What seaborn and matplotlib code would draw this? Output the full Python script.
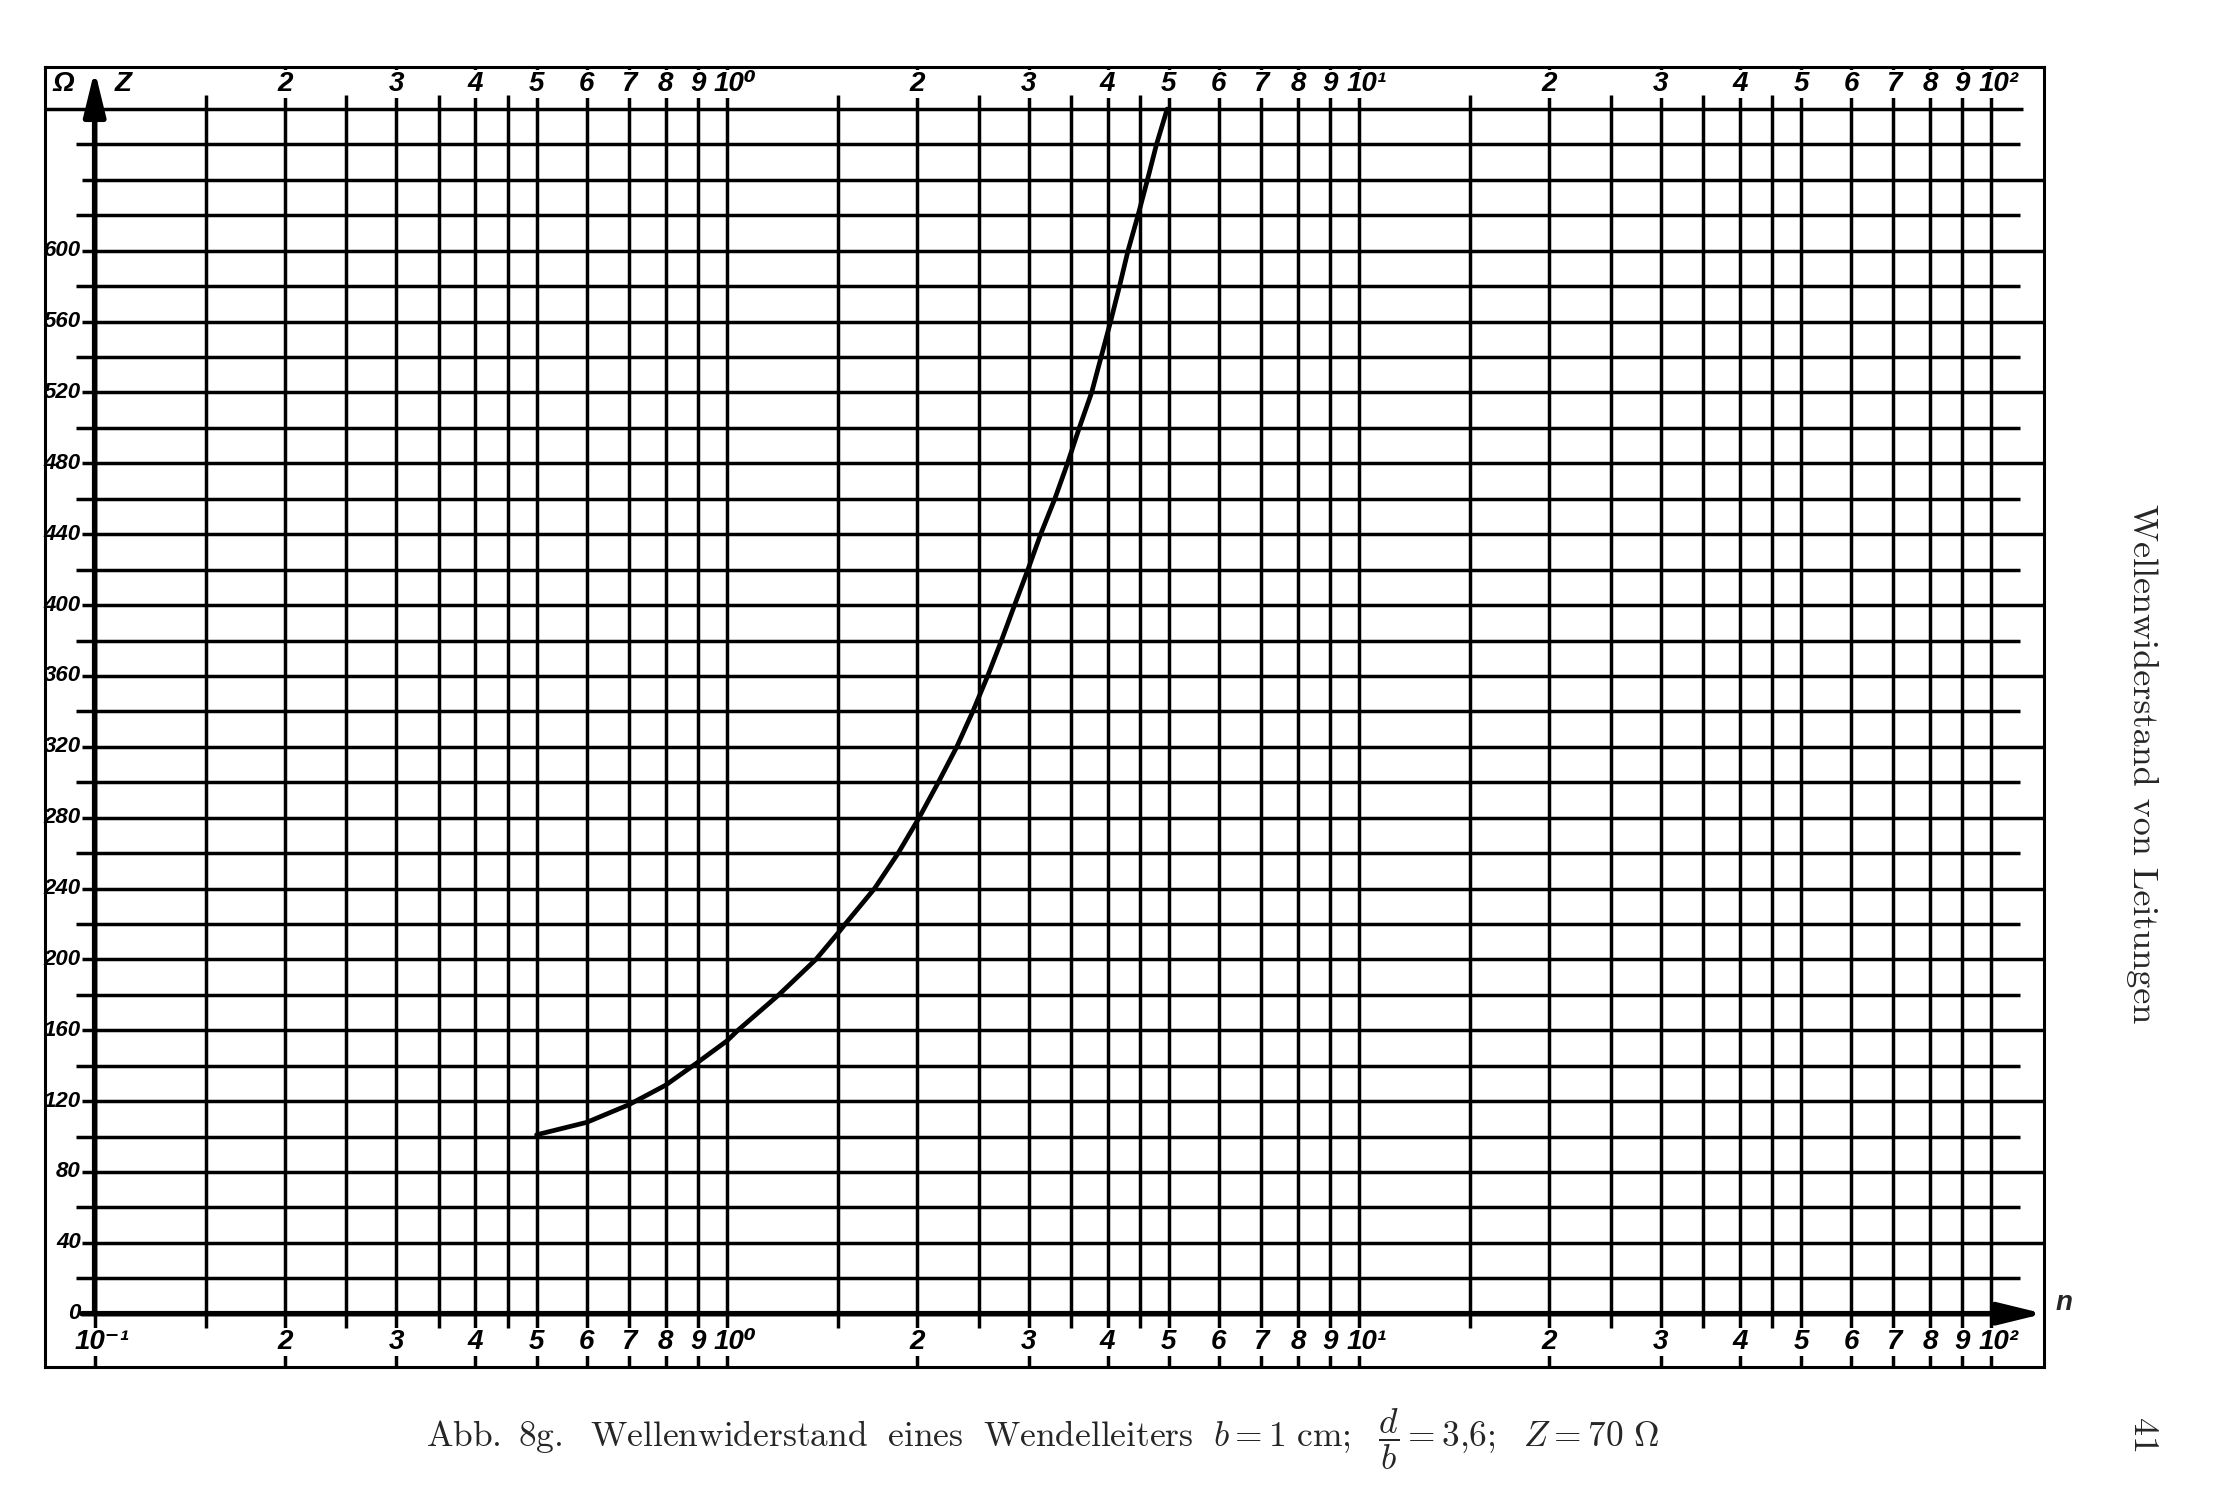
import numpy as np
import pandas as pd
import matplotlib
matplotlib.use("Agg")
import matplotlib.pyplot as plt
import seaborn as sns

# curve: n (log axis) against Z in Ohm
n_vals = [0.5, 0.6, 0.7, 0.8, 0.9, 1.0, 1.041, 1.208, 1.383, 1.5, 1.539,
          1.712, 1.866, 2.014, 2.16, 2.31, 2.449, 2.585, 2.718, 2.851, 2.993,
          3.135, 3.301, 3.457, 3.608, 3.775, 3.907, 4.044, 4.178, 4.309,
          4.469, 4.625, 4.78, 4.97]
z_vals = [101, 108, 118, 129, 142, 154, 160, 180, 200, 215, 220,
          240, 260, 280, 300, 320, 340, 360, 380, 400, 420,
          440, 460, 480, 500, 520, 540, 560, 580, 600,
          620, 640, 660, 680]

decades = [0.1, 1, 10]
mult_labeled = [2, 3, 4, 5, 6, 7, 8, 9]
mult_half = [1.5, 2.5, 3.5, 4.5]
decade_labels = {0.1: "10⁻¹", 1: "10⁰", 10: "10¹", 100: "10²"}
y_grid = list(range(0, 700, 20))
y_labels = list(range(0, 601, 40))

sns.set_theme(style="white")
plt.rcParams["font.family"] = ["Liberation Sans Narrow", "Liberation Sans", "DejaVu Sans"]
plt.rcParams["mathtext.fontset"] = "cm"

df = pd.DataFrame({"n": n_vals, "Z": z_vals})

fig = plt.figure(figsize=(22.24, 15.12), dpi=100)
ax = fig.add_axes([0.0204, 0.096, 0.8986, 0.860])
ax.set_xscale("log")
xl, xr = 10 ** -1.078, 10 ** 2.083
yb, yt = -30, 704
ax.set_xlim(xl, xr)
ax.set_ylim(yb, yt)

glw = 2.5
lab = dict(fontsize=20, fontweight="bold", fontstyle="italic", color="black",
           ha="center", va="center", zorder=5,
           bbox=dict(facecolor="white", edgecolor="none", pad=0.5))

# vertical grid
for d in decades:
    for m in mult_labeled:
        ax.vlines(d * m, yb, yt, color="black", lw=glw, zorder=1)
    for m in mult_half:
        ax.vlines(d * m, -8, 688, color="black", lw=glw, zorder=1)
    if d > 0.1:
        ax.vlines(d, yb, yt, color="black", lw=glw, zorder=1)
ax.vlines(100, yb, yt, color="black", lw=glw, zorder=1)
ax.vlines(0.1, yb, 0, color="black", lw=glw, zorder=1)

# horizontal grid
for z in y_grid:
    if z == 0:
        continue
    if z == 680:
        ax.hlines(z, xl, 10 ** 2.05, color="black", lw=glw, zorder=1)
    elif z % 40 == 0:
        ax.hlines(z, 10 ** -1.02, xr, color="black", lw=glw, zorder=1)
    else:
        ax.hlines(z, 10 ** -1.03, 10 ** 2.045, color="black", lw=glw, zorder=1)

# axes with arrows
arrow = dict(arrowstyle="-|>,head_length=0.9,head_width=0.22", lw=4,
             color="black", mutation_scale=30, shrinkA=0, shrinkB=0)
ax.annotate("", xy=(0.1, 702), xytext=(0.1, 0), arrowprops=arrow, zorder=3)
ax.annotate("", xy=(10 ** 2.083, 0), xytext=(10 ** -1.02, 0),
            arrowprops=arrow, zorder=3)

# curve
sns.lineplot(data=df, x="n", y="Z", ax=ax, color="black", lw=3.4,
             sort=False, estimator=None, zorder=4)

# x labels top and bottom
for d in decades:
    for m in mult_labeled:
        ax.text(d * m, -16, str(m), **lab)
        ax.text(d * m, 694, str(m), **lab)
for d, s in decade_labels.items():
    ax.text(d * 10 ** 0.012, -16, s, **lab)
    if d > 0.1:
        ax.text(d * 10 ** 0.012, 694, s, **lab)

# y labels
ylab = dict(lab)
ylab["ha"] = "right"
ylab["fontsize"] = 16
ylab.pop("bbox")
for z in y_labels:
    ax.text(10 ** -1.022, z, str(z), **ylab)
ax.text(10 ** -1.05, 694, "Ω", **lab)
ax.text(10 ** -0.955, 694, "Z", **lab)
ax.text(10 ** 2.115, 6, "n", fontsize=20, fontstyle="italic", fontweight="bold",
        ha="center", va="center", clip_on=False)

ax.set_xticks([])
ax.set_xticks([], minor=True)
ax.set_yticks([])
ax.set_xlabel("")
ax.set_ylabel("")
for sp in ax.spines.values():
    sp.set_color("black")
    sp.set_linewidth(2.2)

caption = (r"$\mathrm{Abb.\ 8g.\ \ Wellenwiderstand\ \ eines\ \ Wendelleiters}\ \ "
           r"b = 1\ \mathrm{cm};\ \ \dfrac{d}{b} = 3{,}6;\ \ Z = 70\ \Omega$")
fig.text(0.469, 0.048, caption, ha="center", va="center", fontsize=25.5)
fig.text(0.963, 0.495, "Wellenwiderstand von Leitungen", rotation=270,
         ha="center", va="center", fontsize=26, family="cmr10")
fig.text(0.963, 0.05, "41", rotation=270, ha="center", va="center",
         fontsize=26, family="cmr10")

fig.savefig("out.png", dpi=100, facecolor="white")
